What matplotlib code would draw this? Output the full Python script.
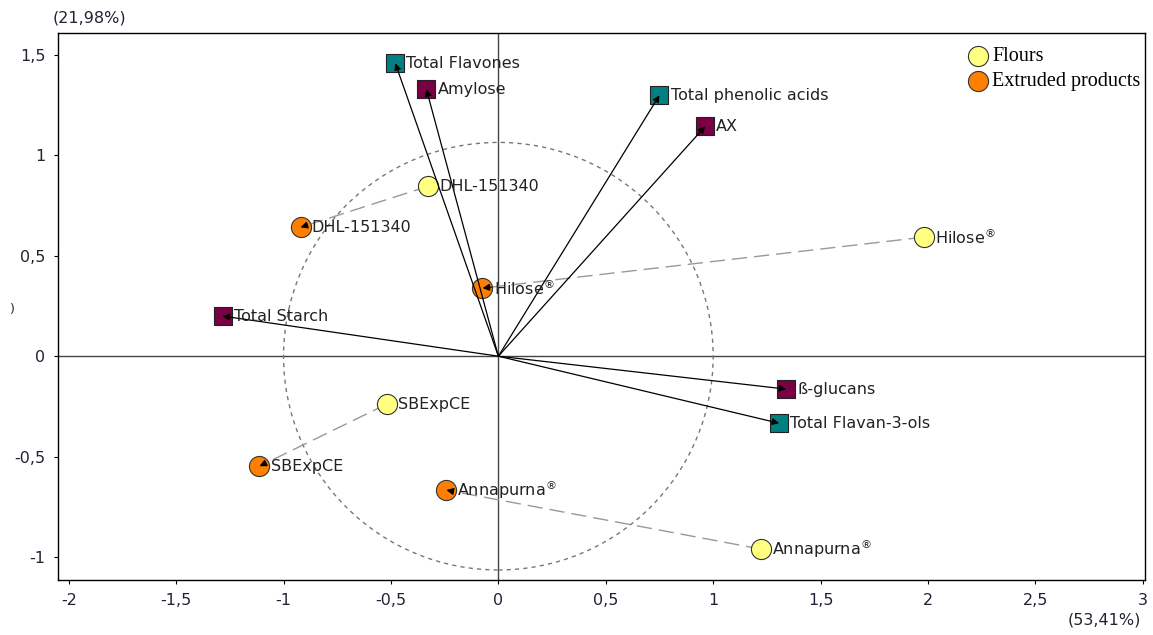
import numpy as np
import matplotlib.pyplot as plt
from matplotlib.patches import Ellipse
from matplotlib.ticker import FuncFormatter

# variables (squares) - loadings
var_names = ['Total Flavones', 'Amylose', 'Total phenolic acids', 'AX',
             'Total Starch', 'ß-glucans', 'Total Flavan-3-ols']
var_x = [-0.48, -0.335, 0.75, 0.963, -1.284, 1.34, 1.307]
var_y = [1.46, 1.33, 1.30, 1.145, 0.20, -0.164, -0.334]
var_group = ['phen', 'carb', 'phen', 'carb', 'carb', 'carb', 'phen']

# observations (circles)
samples = ['DHL-151340', 'Hilose$^{\\circledR}$', 'SBExpCE', 'Annapurna$^{\\circledR}$']
flour_x = [-0.326, 1.98, -0.52, 1.223]
flour_y = [0.847, 0.593, -0.239, -0.961]
extr_x = [-0.921, -0.074, -1.112, -0.242]
extr_y = [0.642, 0.339, -0.548, -0.667]

col = {'phen': '#008080', 'carb': '#7a0045'}

fig = plt.figure(figsize=(11.53, 6.35), dpi=100)
ax = fig.add_axes([0.0503, 0.0866, 0.9427, 0.8614])
ax.set_xlim(-2.05, 3.01)
ax.set_ylim(-1.115, 1.61)

ax.axhline(0, color='#444444', lw=1, zorder=1)
ax.axvline(0, color='#444444', lw=1, zorder=1)

# correlation circle (drawn round in pixel space)
ax.add_patch(Ellipse((0, 0), 2.0, 2.13, fill=False, ls=(0, (3, 3)),
                     color='#777777', lw=1, zorder=1))

# dashed links flour -> extruded
for i in range(len(samples)):
    ax.plot([flour_x[i], extr_x[i]], [flour_y[i], extr_y[i]], color='#999999',
            lw=1, ls=(0, (11, 5)), zorder=2)

ax.scatter(flour_x, flour_y, s=210, c='#ffff80', edgecolors='#333333', lw=0.8, zorder=3)
ax.scatter(extr_x, extr_y, s=210, c='#ff8000', edgecolors='#333333', lw=0.8, zorder=3)

for i in range(len(samples)):
    dx = extr_x[i] - flour_x[i]
    dy = extr_y[i] - flour_y[i]
    ax.annotate('', xy=(extr_x[i], extr_y[i]),
                xytext=(extr_x[i] - 0.02 * dx, extr_y[i] - 0.02 * dy),
                arrowprops=dict(arrowstyle='-|>', color='black', lw=1, mutation_scale=10,
                                shrinkA=0, shrinkB=0), zorder=5)
    ax.annotate(samples[i], (flour_x[i], flour_y[i]), xytext=(8, 0), textcoords='offset points',
                va='center', fontsize=11.5, color='#222222', zorder=6)
    ax.annotate(samples[i], (extr_x[i], extr_y[i]), xytext=(8, 0), textcoords='offset points',
                va='center', fontsize=11.5, color='#222222', zorder=6)

for i in range(len(var_names)):
    ax.scatter(var_x[i], var_y[i], marker='s', s=170, c=col[var_group[i]],
               edgecolors='#222222', lw=0.8, zorder=3)
    ax.annotate('', xy=(var_x[i], var_y[i]), xytext=(0, 0),
                arrowprops=dict(arrowstyle='-|>', color='black', lw=0.9, mutation_scale=10,
                                shrinkA=0, shrinkB=0), zorder=4)
    ax.annotate(var_names[i], (var_x[i], var_y[i]), xytext=(8, 0), textcoords='offset points',
                va='center', fontsize=11.5, color='#222222', zorder=6)

# legend
ax.scatter([], [], s=210, c='#ffff80', edgecolors='#333333', lw=0.8, label='Flours')
ax.scatter([], [], s=210, c='#ff8000', edgecolors='#333333', lw=0.8, label='Extruded products')
ax.legend(loc='upper right', frameon=False, prop={'family': 'Liberation Serif', 'size': 14.5},
          handletextpad=-0.3, labelspacing=0.3, borderaxespad=0.3, bbox_to_anchor=(1.009, 1.0))

fmt = FuncFormatter(lambda v, p: ('%g' % v).replace('.', ','))
ax.set_xticks(np.arange(-2, 3.01, 0.5))
ax.set_yticks(np.arange(-1, 1.51, 0.5))
ax.xaxis.set_major_formatter(fmt)
ax.yaxis.set_major_formatter(fmt)
ax.tick_params(direction='out', length=3, labelsize=11.5, labelcolor='#222233', pad=6)
for s in ax.spines.values():
    s.set_linewidth(1)

fig.text(0.078, 0.972, '(21,98%)', fontsize=11.5, color='#222233', ha='center', va='center')
fig.text(0.958, 0.024, '(53,41%)', fontsize=11.5, color='#222233', ha='center', va='center')
fig.text(0.011, 0.513, ')', fontsize=9, color='#222233', ha='center', va='center')

fig.savefig('out.png', dpi=100)
